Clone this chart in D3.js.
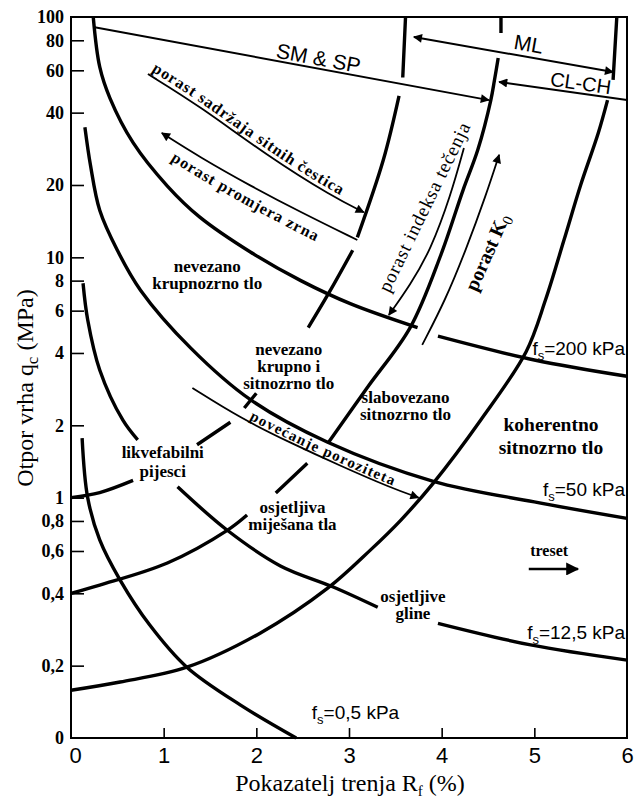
<!DOCTYPE html>
<html>
<head>
<meta charset="utf-8">
<script src="https://cdn.jsdelivr.net/npm/d3@7"></script>
<style>
  body { margin: 0; background: #fff; }
</style>
</head>
<body>
<svg id="chart" width="635" height="799"></svg>
<script>
// axis ticks
var rfTicks = [0, 1, 2, 3, 4, 5, 6];
var qcTicks = [0.1, 0.2, 0.4, 0.6, 0.8, 1, 2, 4, 6, 8, 10, 20, 40, 60, 80, 100];
var qcTickLabels = ["0", "0,2", "0,4", "0,6", "0,8", "1", "2", "4", "6", "8", "10", "20", "40", "60", "80", "100"];

// fs contours [Rf %, qc MPa], null = gap in the line
var fs200 = [[0.24,100],[0.31,62],[0.42,46],[0.67,30],[1.04,19.8],[1.39,14.7],[1.94,10.5],[2.48,8.0],[3.02,6.4],[3.74,5.1],null,[3.96,4.7],[5.0,3.74],[6.0,3.2]];
var fs50 = [[0.15,34.8],[0.21,24.2],[0.31,15.7],[0.50,10.7],[0.75,7.3],[1.29,4.2],[1.94,2.55],[2.77,1.70],[3.91,1.17],[5.0,0.96],[6.0,0.82]];
var fs12 = [[0.13,7.8],[0.18,5.5],[0.31,3.4],[0.56,2.1],[0.72,1.74],null,[1.15,1.11],[1.69,0.73],[2.26,0.52],[2.83,0.425],[3.31,0.35],null,[3.96,0.30],[4.96,0.244],[6.0,0.211]];
var fs05 = [[0.12,1.77],[0.18,1.0],[0.31,0.667],[0.53,0.454],[0.85,0.295],[1.25,0.197],[1.83,0.137],[2.43,0.1]];

// soil boundaries
var boundA = [[0,1.0],[0.31,1.05],[0.67,1.18],null,[1.36,1.66],[1.72,2.06],null,[1.87,2.36],[2.0,2.72],null,[2.56,5.1],[2.80,7.3],[3.04,10.7],null,[3.09,12.1],[3.37,25.4],[3.54,47],null,[3.58,56],[3.61,100]];
var boundB = [[0,0.4],[0.31,0.433],[1.04,0.535],[1.69,0.733],[1.90,0.847],null,[2.21,1.045],[2.55,1.39],null,[2.78,1.70],[3.2,2.88],[3.66,5.1],[3.99,10.2],[4.23,19],[4.39,28],[4.53,45],[4.57,54.7],[4.61,67.5],null,[4.64,85.8],[4.64,100]];
var boundC = [[0,0.158],[0.53,0.171],[1.25,0.197],[2.04,0.273],[2.77,0.42],[3.23,0.605],[3.56,0.807],[3.91,1.15],[4.42,2.10],[4.91,4.04],[5.12,6.64],[5.32,11.8],[5.50,20],[5.69,32.9],[5.79,45.1],null,[5.85,54.7],[5.89,100]];

// arrows
var smspArrow = [[0.24,90.9],[4.51,45.1]];
var mlArrow = [[3.70,82.6],[5.85,59.0]];
var clchArrow = [[4.62,53.7],[6.0,45.1]];
var sadrzajaArrow = [[0.83,57.9],[1.39,42.6],[2.12,26.4],[2.83,17.8],[3.16,15.4]];
var promjeraArrow = [[3.09,11.8],[2.48,15.4],[1.94,19.8],[1.39,26.1],[0.98,32.9]];
var porozArrow = [[1.31,2.86],[1.83,2.14],[2.37,1.69],[2.91,1.355],[3.45,1.10],[3.75,1.0]];
var indeksArrow = [[4.24,28.5],[4.10,18.2],[3.88,10.7],[3.66,7.67],[3.43,5.75]];
var k0Arrow = [[3.79,4.32],[4.04,6.64],[4.26,10.7],[4.48,18.2],[4.62,26.7]];
var tresetArrow = [[4.94,0.505],[5.47,0.505]];

var serif = "'Liberation Serif', 'Times New Roman', serif";
var sans = "'Liberation Sans', Arial, sans-serif";

var svg = d3.select("#chart");
var x = d3.scaleLinear().domain([0, 6]).range([71, 627]);
var y = d3.scaleLog().domain([0.1, 100]).range([738, 17]);

var defs = svg.append("defs");
function marker(id, w, h) {
    defs.append("marker")
        .attr("id", id)
        .attr("viewBox", "0 0 10 10")
        .attr("refX", 9).attr("refY", 5)
        .attr("markerWidth", w).attr("markerHeight", h)
        .attr("markerUnits", "userSpaceOnUse")
        .attr("orient", "auto-start-reverse")
        .append("path").attr("d", "M0,0L10,5L0,10z").attr("fill", "#000");
}
marker("arr", 13, 9);
marker("arrBig", 14, 13);

var line = d3.line()
    .defined(function (d) { return d != null; })
    .x(function (d) { return x(d[0]); })
    .y(function (d) { return y(d[1]); })
    .curve(d3.curveCatmullRom.alpha(0.5));

var smooth = d3.line()
    .x(function (d) { return x(d[0]); })
    .y(function (d) { return y(d[1]); })
    .curve(d3.curveBasis);

// frame
svg.append("rect")
    .attr("x", x(0)).attr("y", y(100))
    .attr("width", x(6) - x(0)).attr("height", y(0.1) - y(100))
    .attr("fill", "none").attr("stroke", "#000").attr("stroke-width", 2);

// y axis
var gy = svg.append("g")
    .attr("transform", "translate(" + x(0) + ",0)")
    .call(d3.axisLeft(y).tickValues(qcTicks)
        .tickFormat(function (d, i) { return qcTickLabels[i]; })
        .tickSize(-13).tickPadding(7));
gy.select(".domain").remove();
gy.selectAll(".tick line").filter(function (d) { return d === 100 || d === 0.1; }).remove();
gy.selectAll(".tick line").attr("stroke", "#000").attr("stroke-width", 1.6);
gy.selectAll(".tick text")
    .attr("font-family", serif).attr("font-weight", "bold").attr("font-size", 18).attr("fill", "#000");

// x axis
var gx = svg.append("g")
    .attr("transform", "translate(0," + y(0.1) + ")")
    .call(d3.axisBottom(x).tickValues(rfTicks).tickFormat(d3.format("d")).tickSize(-10).tickPadding(9));
gx.select(".domain").remove();
gx.selectAll(".tick line").filter(function (d) { return d === 0 || d === 6; }).remove();
gx.selectAll(".tick line").attr("stroke", "#000").attr("stroke-width", 1.6);
gx.selectAll(".tick text")
    .attr("font-family", sans).attr("font-size", 22).attr("fill", "#000");
gx.selectAll(".tick text").filter(function (d) { return d === 0; }).attr("dx", 4);

// thick curves
[fs200, fs50, fs12, fs05, boundA, boundB, boundC].forEach(function (c) {
    svg.append("path").attr("d", line(c))
        .attr("fill", "none").attr("stroke", "#000").attr("stroke-width", 3.4);
});

// arrow lines
function arrow(pts, w, mk, both) {
    var p = svg.append("path").attr("d", smooth(pts))
        .attr("fill", "none").attr("stroke", "#000").attr("stroke-width", w)
        .attr("marker-end", "url(#" + mk + ")");
    if (both) p.attr("marker-start", "url(#" + mk + ")");
    return p;
}
arrow(smspArrow, 2, "arr");
arrow(mlArrow, 2, "arr", true);
svg.append("path").attr("d", smooth(clchArrow))
    .attr("fill", "none").attr("stroke", "#000").attr("stroke-width", 2)
    .attr("marker-start", "url(#arr)");
arrow(sadrzajaArrow, 1.8, "arr");
arrow(promjeraArrow, 1.8, "arr");
arrow(porozArrow, 1.8, "arr");
arrow(indeksArrow, 1.8, "arr");
arrow(k0Arrow, 1.8, "arr");
arrow(tresetArrow, 2.6, "arrBig");

// text along a curve
function curvedText(id, pts, dx, dy, str, size, weight, offset, len) {
    var p = d3.line()
        .x(function (d) { return x(d[0]) + dx; })
        .y(function (d) { return y(d[1]) + dy; })
        .curve(d3.curveBasis);
    defs.append("path").attr("id", id).attr("d", p(pts));
    var t = svg.append("text")
        .attr("font-family", serif).attr("font-size", size).attr("font-weight", weight);
    if (len) t.attr("textLength", len).attr("lengthAdjust", "spacing");
    t.append("textPath").attr("href", "#" + id).attr("startOffset", offset).text(str);
}
curvedText("tp1", sadrzajaArrow, 0, -5, "porast sadržaja sitnih čestica", 16, "bold", 4, 226);
curvedText("tp2", promjeraArrow.slice().reverse(), 2, 23, "porast promjera zrna", 16, "bold", 8, 166);
curvedText("tp3", porozArrow, 0, -2.5, "povećanje poroziteta", 15, "bold", 66, 158);

// rotated labels
function rotText(str, cx, cy, ang, size, font, weight) {
    return svg.append("text")
        .attr("transform", "translate(" + cx + "," + cy + ") rotate(" + ang + ")")
        .attr("text-anchor", "middle").attr("dy", "0.35em")
        .attr("font-family", font).attr("font-size", size).attr("font-weight", weight || "normal")
        .text(str);
}
rotText("porast indeksa tečenja", 424, 207, -64, 19, serif).attr("textLength", 186).attr("lengthAdjust", "spacing");
var k0 = svg.append("text")
    .attr("transform", "translate(" + 487 + "," + 252 + ") rotate(-66)")
    .attr("text-anchor", "middle").attr("dy", "0.35em")
    .attr("font-family", serif).attr("font-size", 20).attr("font-weight", "bold");
k0.append("tspan").text("porast K");
k0.append("tspan").attr("dy", 4).attr("font-size", 15).attr("font-weight", "normal").text("0");

rotText("SM & SP", x(2.67), y(67.5), 10.5, 21, sans);
rotText("ML", x(4.94), y(77.2), 10, 21, sans);
rotText("CL-CH", x(5.50), y(53.1), 8, 20, sans);

// zone labels
function zone(lines, rf, qc, size, gap) {
    var t = svg.append("text")
        .attr("text-anchor", "middle")
        .attr("font-family", serif).attr("font-size", size).attr("font-weight", "bold");
    lines.forEach(function (s, i) {
        t.append("tspan")
            .attr("x", x(rf))
            .attr("y", y(qc) + (i - (lines.length - 1) / 2) * gap)
            .attr("dy", "0.3em")
            .text(s);
    });
}
zone(["nevezano", "krupnozrno tlo"], 1.47, 8.4, 17, 17);
zone(["nevezano", "krupno i", "sitnozrno tlo"], 2.35, 3.5, 17, 17);
zone(["slabovezano", "sitnozrno tlo"], 3.61, 2.39, 17, 17);
zone(["koherentno", "sitnozrno tlo"], 5.18, 1.79, 19.5, 23);
zone(["likvefabilni", "pijesci"], 0.99, 1.40, 17, 19);
zone(["osjetljiva", "miješana tla"], 2.39, 0.834, 17, 17);
zone(["osjetljive", "gline"], 3.69, 0.357, 17, 17);
zone(["treset"], 5.16, 0.60, 16, 16);

// fs labels
function fsLabel(val, rf, qc, anchor) {
    var t = svg.append("text")
        .attr("x", rf === 6 ? x(6) - 2 : x(rf)).attr("y", y(qc)).attr("dy", "0.35em")
        .attr("text-anchor", anchor)
        .attr("font-family", sans).attr("font-size", 19);
    t.append("tspan").text("f");
    t.append("tspan").attr("dy", 5).attr("font-size", 13).text("s");
    t.append("tspan").attr("dy", -5).text("=" + val + " kPa");
}
fsLabel("200", 6, 4.2, "end");
fsLabel("50", 6, 1.08, "end");
fsLabel("12,5", 6, 0.276, "end");
fsLabel("0,5", 3.07, 0.128, "middle");

// axis titles
var yt = svg.append("text")
    .attr("transform", "translate(33,388) rotate(-90)")
    .attr("text-anchor", "middle")
    .attr("font-family", serif).attr("font-size", 24);
yt.append("tspan").text("Otpor vrha q");
yt.append("tspan").attr("dy", 5).attr("font-size", 17).text("c");
yt.append("tspan").attr("dy", -5).text(" (MPa)");

var xt = svg.append("text")
    .attr("x", 350).attr("y", 791)
    .attr("text-anchor", "middle")
    .attr("font-family", serif).attr("font-size", 24);
xt.append("tspan").text("Pokazatelj trenja R");
xt.append("tspan").attr("dy", 5).attr("font-size", 15).text("f");
xt.append("tspan").attr("dy", -5).text("  (%)");
</script>
</body>
</html>
